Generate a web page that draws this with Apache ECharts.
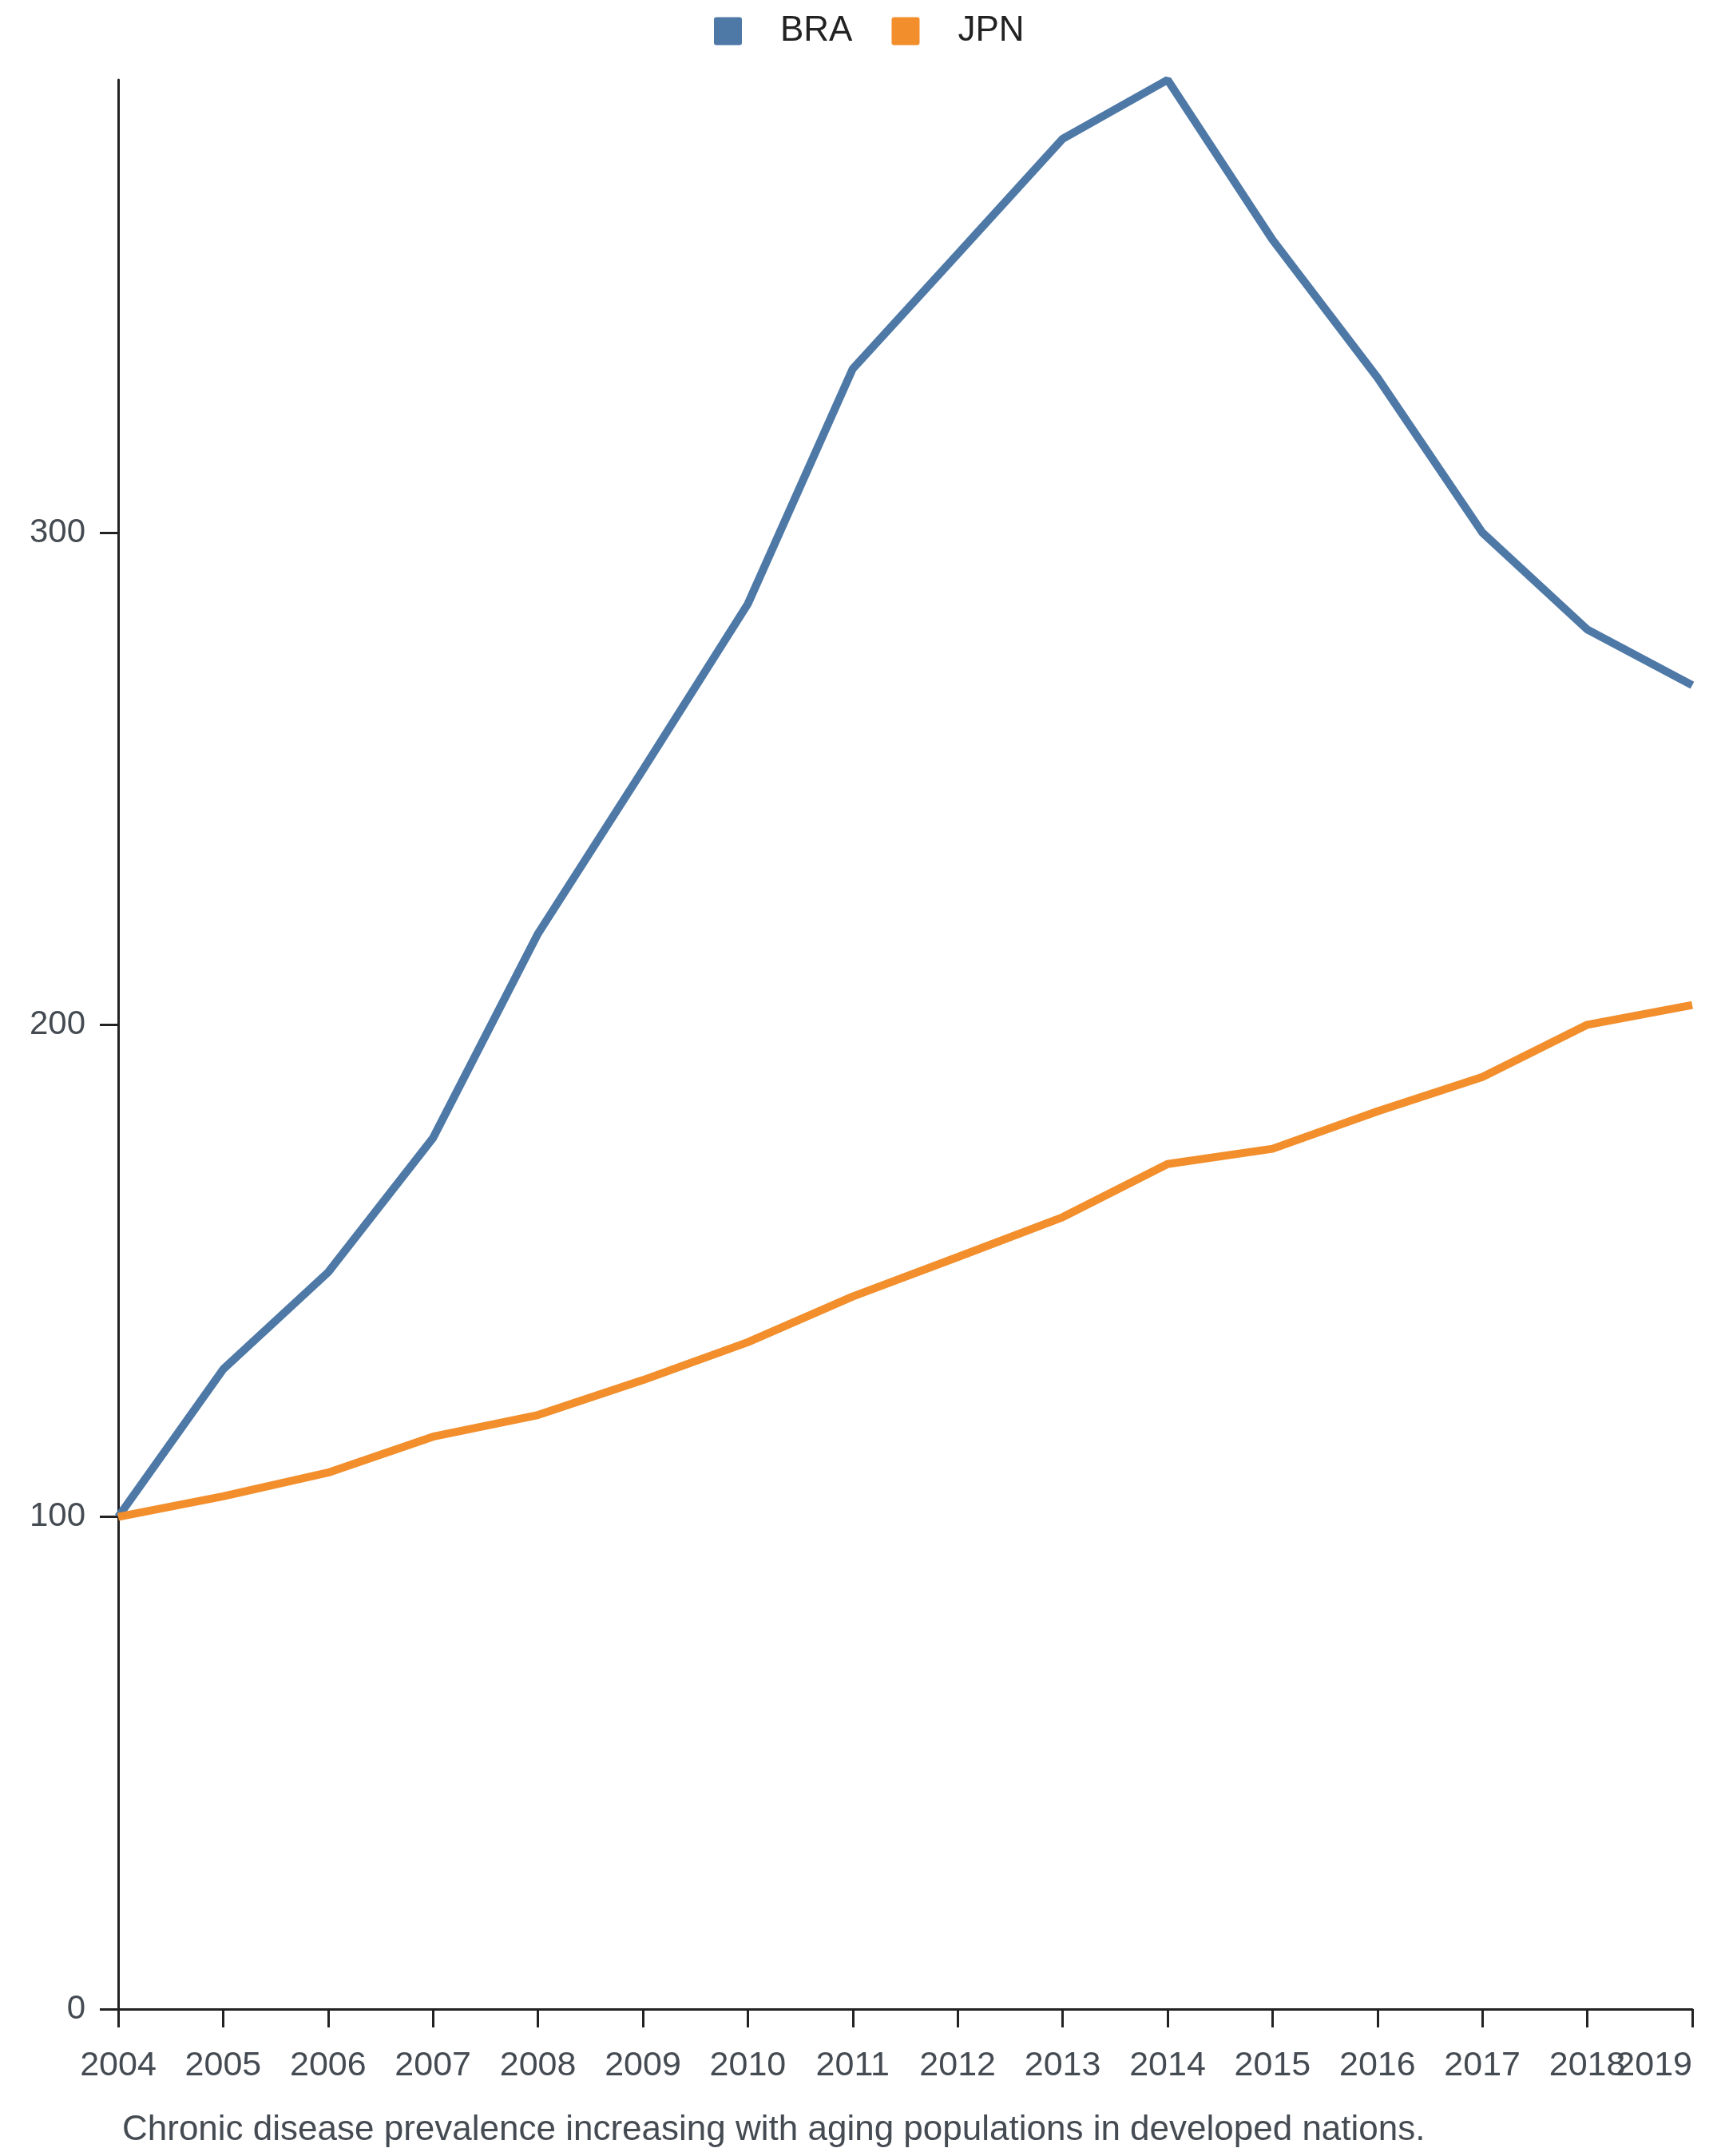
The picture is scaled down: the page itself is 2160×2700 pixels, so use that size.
<!DOCTYPE html>
<html>
<head>
<meta charset="utf-8">
<script src="https://cdn.jsdelivr.net/npm/echarts@6/dist/echarts.min.js"></script>
<style>
  html, body { margin: 0; padding: 0; background: #ffffff; }
  #chart { width: 2160px; height: 2700px; }
</style>
</head>
<body>
<div id="chart"></div>
<script>
const years = ['2004','2005','2006','2007','2008','2009','2010','2011','2012','2013','2014','2015','2016','2017','2018','2019'];
const braValues = [100, 130.0, 149.7, 177.0, 218.5, 251.8, 285.5, 333.3, 356.6, 380.0, 392.0, 359.5, 331.5, 300.0, 280.3, 269.0];
const jpnValues = [100, 104.2, 109.0, 116.3, 120.7, 127.8, 135.5, 144.8, 152.8, 160.9, 171.7, 174.8, 182.4, 189.4, 200.0, 204.0];
const yTicks = [0, 100, 200, 300];
const caption = 'Chronic disease prevalence increasing with aging populations in developed nations.';

const chart = echarts.init(document.getElementById('chart'), null, { renderer: 'canvas' });
const fontFamily = 'Liberation Sans, Arial, Helvetica, sans-serif';

chart.setOption({
  backgroundColor: '#ffffff',
  animation: false,
  textStyle: { fontFamily: fontFamily },
  title: {
    text: caption,
    left: 148,
    top: 2641,
    textStyle: { fontSize: 44, fontWeight: 'normal', color: '#454b52', fontFamily: fontFamily }
  },
  legend: {
    top: 12,
    left: 889,
    itemWidth: 35,
    itemHeight: 35,
    itemGap: 49,
    icon: 'path://M3,0 L32,0 Q35,0 35,3 L35,32 Q35,35 32,35 L3,35 Q0,35 0,32 L0,3 Q0,0 3,0 Z',
    textStyle: { fontSize: 44, color: '#222222', padding: [0, 0, 0, 43], fontFamily: fontFamily },
    data: ['BRA', 'JPN']
  },
  grid: { left: 148, right: 41, top: 100, bottom: 184, containLabel: false, outerBoundsMode: 'none' },
  xAxis: {
    type: 'category',
    data: years,
    boundaryGap: false,
    axisLine: { lineStyle: { color: '#222222', width: 3 } },
    axisTick: { show: true, length: 23, lineStyle: { color: '#222222', width: 3 }, alignWithLabel: true, interval: 0 },
    axisLabel: { fontSize: 43, color: '#454b52', margin: 50, interval: 0, hideOverlap: false, alignMaxLabel: 'right', fontFamily: fontFamily },
    splitLine: { show: false }
  },
  yAxis: {
    type: 'value',
    min: 0,
    max: 392,
    axisLine: { show: true, lineStyle: { color: '#222222', width: 3 } },
    axisTick: { show: true, length: 23, lineStyle: { color: '#222222', width: 3 }, customValues: yTicks },
    axisLabel: { fontSize: 42, color: '#454b52', margin: 41, customValues: yTicks, fontFamily: fontFamily },
    splitLine: { show: false }
  },
  series: [
    {
      name: 'BRA',
      type: 'line',
      data: braValues,
      showSymbol: false,
      symbol: 'none',
      lineStyle: { color: '#4e79a7', width: 10 },
      itemStyle: { color: '#4e79a7' }
    },
    {
      name: 'JPN',
      type: 'line',
      data: jpnValues,
      showSymbol: false,
      symbol: 'none',
      lineStyle: { color: '#f28e2b', width: 10 },
      itemStyle: { color: '#f28e2b' }
    }
  ]
});
</script>
</body>
</html>
